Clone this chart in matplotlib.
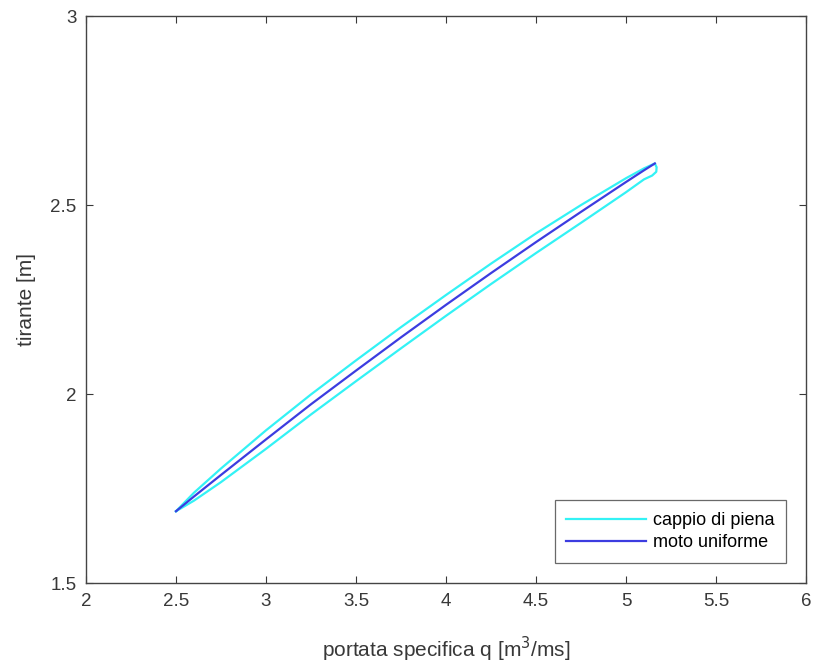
import matplotlib
matplotlib.use('Agg')
import matplotlib.pyplot as plt

plt.rcParams['font.family'] = ['Liberation Sans', 'DejaVu Sans']

# moto uniforme (scala di deflusso)
q_unif = [2.50, 2.60, 2.75, 3.00, 3.25, 3.50, 3.75, 4.00, 4.25, 4.50, 4.75, 5.00, 5.10, 5.16]
h_unif = [1.690, 1.729, 1.786, 1.880, 1.973, 2.062, 2.150, 2.236, 2.320, 2.402, 2.482, 2.561, 2.592, 2.610]

# cappio di piena: ramo superiore e poi ramo inferiore (a ritroso)
q_loop = [2.50, 2.60, 2.75, 3.00, 3.25, 3.50, 3.75, 4.00, 4.25, 4.50, 4.75, 5.00, 5.10, 5.16,
          5.170, 5.168, 5.145, 5.10, 5.00, 4.75, 4.50, 4.25, 4.00, 3.75, 3.50, 3.25, 3.00,
          2.75, 2.60, 2.50]
h_loop = [1.690, 1.739, 1.803, 1.904, 1.999, 2.089, 2.177, 2.262, 2.345, 2.425, 2.500, 2.571,
          2.597, 2.610, 2.600, 2.588, 2.578, 2.568, 2.534, 2.453, 2.373, 2.291, 2.207, 2.121,
          2.034, 1.946, 1.855, 1.767, 1.718, 1.690]

fig = plt.figure(figsize=(8.15, 6.69), dpi=100)
ax = fig.add_axes([0.1055, 0.1285, 0.8835, 0.8475])

ax.plot(q_loop, h_loop, color='#33f2f5', lw=1.6, label='cappio di piena')
ax.plot(q_unif, h_unif, color='#3c3ce0', lw=1.6, label='moto uniforme')

ax.set_xlim(2, 6)
ax.set_ylim(1.5, 3)
ax.set_xticks([2, 2.5, 3, 3.5, 4, 4.5, 5, 5.5, 6])
ax.set_xticklabels(['2', '2.5', '3', '3.5', '4', '4.5', '5', '5.5', '6'])
ax.set_yticks([1.5, 2, 2.5, 3])
ax.set_yticklabels(['1.5', '2', '2.5', '3'])

gray = '#383838'
for s in ax.spines.values():
    s.set_color('#444444')
    s.set_linewidth(1.0)
ax.tick_params(direction='in', top=True, right=True, length=5, width=0.8,
               colors=gray, labelsize=13.5, pad=7)

ax.set_xlabel('portata specifica q [m$^3$/ms]', fontsize=15, color=gray, labelpad=18)
ax.set_ylabel('tirante [m]', fontsize=15, color=gray, labelpad=10)

leg = ax.legend(loc='lower right', fontsize=13, frameon=True, fancybox=False,
                borderaxespad=1.1, handlelength=4.4, borderpad=0.65,
                labelspacing=0.3, handletextpad=0.4)
leg.get_frame().set_edgecolor('#444444')
leg.get_frame().set_linewidth(0.9)

fig.savefig('out.png', dpi=100)
